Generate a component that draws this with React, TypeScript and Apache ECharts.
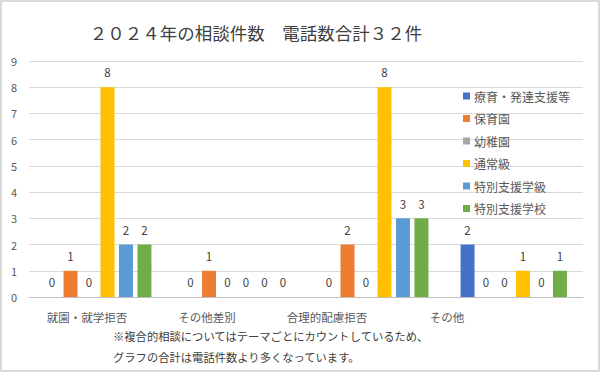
import React, { useEffect, useRef } from "react";
import * as echarts from "echarts";

const categories = ["就園・就学拒否", "その他差別", "合理的配慮拒否", "その他"];
const seriesNames = ["療育・発達支援等", "保育園", "幼稚園", "通常級", "特別支援学級", "特別支援学校"];
const ryoiku = [0, 0, 0, 2];
const hoikuen = [1, 1, 2, 0];
const youchien = [0, 0, 0, 0];
const tsujokyu = [8, 0, 8, 1];
const tokubetsuGakkyu = [2, 0, 3, 0];
const tokubetsuGakko = [2, 0, 3, 1];
const seriesValues = [ryoiku, hoikuen, youchien, tsujokyu, tokubetsuGakkyu, tokubetsuGakko];
const colors = ["#4472C4", "#ED7D31", "#A5A5A5", "#FFC000", "#5B9BD5", "#70AD47"];
const yTicks = [0, 1, 2, 3, 4, 5, 6, 7, 8, 9];
const title = "２０２４年の相談件数　電話数合計３２件";
const note1 = "※複合的相談についてはテーマごとにカウントしているため、";
const note2 = "グラフの合計は電話件数より多くなっています。";

const FONT = "'Noto Sans CJK JP', 'Noto Sans', sans-serif";

export default function App() {
  const ref = useRef<HTMLDivElement>(null);
  useEffect(() => {
    if (!ref.current) return;
    const chart = echarts.init(ref.current, null, { renderer: "svg" });
    chart.setOption({
      animation: false,
      textStyle: { fontFamily: FONT },
      title: {
        text: title,
        left: 251,
        textAlign: "center",
        top: 19,
        textStyle: { fontSize: 17.5, fontWeight: "normal", color: "#404040", fontFamily: FONT },
      },
      legend: {
        orient: "vertical",
        left: 458,
        top: 84,
        itemWidth: 7,
        itemHeight: 7,
        itemGap: 8.5,
        icon: "rect",
        data: seriesNames,
        textStyle: { fontSize: 12, color: "#595959", lineHeight: 14, padding: [0, 0, 0, -1] },
      },
      grid: [
        { left: 29, right: 17, top: 61, bottom: 75 },
        { left: 27, width: 480, top: 61, bottom: 75 },
      ],
      xAxis: [
        {
          type: "category",
          data: categories,
          gridIndex: 0,
          axisLine: { lineStyle: { color: "#BFBFBF" } },
          axisTick: { show: false },
          axisLabel: { show: false },
        },
        {
          type: "category",
          data: categories,
          gridIndex: 1,
          axisLine: { show: false },
          axisTick: { show: false },
          axisLabel: { fontSize: 11.5, color: "#595959", margin: 14 },
        },
      ],
      yAxis: [
        {
          type: "value",
          gridIndex: 0,
          min: yTicks[0],
          max: yTicks[yTicks.length - 1],
          interval: 1,
          axisLabel: { fontSize: 11, color: "#595959", margin: 12 },
          splitLine: { lineStyle: { color: "#D9D9D9" } },
        },
        {
          type: "value",
          gridIndex: 1,
          min: 0,
          max: 9,
          show: false,
        },
      ],
      series: seriesNames.map((name, i) => ({
        name,
        type: "bar",
        xAxisIndex: 0,
        yAxisIndex: 0,
        data: seriesValues[i],
        barWidth: 14,
        barGap: "32%",
        itemStyle: { color: colors[i] },
        label: {
          show: true,
          position: "top",
          distance: 9,
          fontSize: 11.5,
          color: "#404040",
        },
      })),
      graphic: [
        {
          type: "text",
          left: 113,
          top: 330,
          style: { text: note1, fontSize: 11.3, fill: "#404040", fontFamily: FONT },
        },
        {
          type: "text",
          left: 113,
          top: 351,
          style: { text: note2, fontSize: 11.3, fill: "#404040", fontFamily: FONT },
        },
      ],
    });
    return () => chart.dispose();
  }, []);
  return (
    <div
      style={{
        position: "absolute",
        left: 0,
        top: 0,
        width: 600,
        height: 372,
        boxSizing: "border-box",
        border: "2px solid #D9D9D9",
        background: "#fff",
      }}
    >
      <div ref={ref} style={{ position: "absolute", left: -2, top: -2, width: 600, height: 372 }} />
    </div>
  );
}
